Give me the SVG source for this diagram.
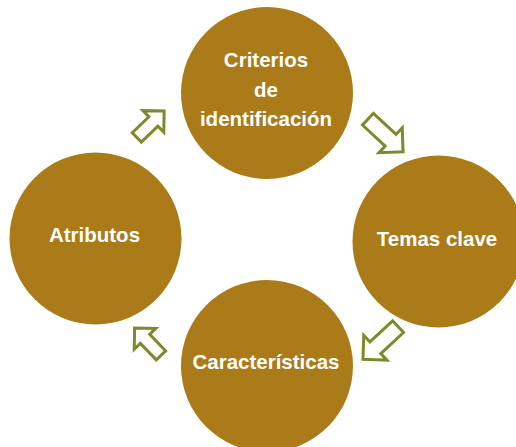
<svg xmlns="http://www.w3.org/2000/svg" width="516" height="447" viewBox="0 0 516 447">
  <style>
    .node { fill: #AB7B19; }
    .label { fill: #FFFFFF; font-family: "Liberation Sans", Arial, sans-serif; font-weight: bold; font-size: 20.5px; text-anchor: middle; }
    .arrow { fill: #FFFFFF; stroke: #7A8B2C; stroke-width: 3; stroke-linejoin: miter; }
  </style>
  <defs>
    <path id="arrowSmall" d="M-19,-6.5 H4 V-15 L19,0 L4,15 V6.5 H-19 Z"/>
    <path id="arrowBig" d="M-24,-8 H7 V-17 L24,0 L7,17 V8 H-24 Z"/>
  </defs>
  <rect width="516" height="447" fill="#FFFFFF"/>
  <g id="connectors">
    <use href="#arrowSmall" class="arrow" transform="translate(150.5,124.2) rotate(-44)"/>
    <use href="#arrowBig" class="arrow" transform="translate(385.5,135.5) rotate(43)"/>
    <use href="#arrowBig" class="arrow" transform="translate(380.5,343) rotate(137)"/>
    <use href="#arrowSmall" class="arrow" transform="translate(147.8,341.7) rotate(226)"/>
  </g>
  <g id="node-criterios">
    <circle class="node" cx="267" cy="93" r="86"/>
    <text class="label" x="266" y="66.7">Criterios</text>
    <text class="label" x="266" y="96.5">de</text>
    <text class="label" x="266" y="126">identificación</text>
  </g>
  <g id="node-temas">
    <circle class="node" cx="438.5" cy="241.5" r="86"/>
    <text class="label" x="437" y="245.7">Temas clave</text>
  </g>
  <g id="node-caracteristicas">
    <circle class="node" cx="267" cy="366" r="86"/>
    <text class="label" x="266" y="369.3">Características</text>
  </g>
  <g id="node-atributos">
    <circle class="node" cx="95.5" cy="238.5" r="86"/>
    <text class="label" x="94.5" y="241.7">Atributos</text>
  </g>
</svg>
